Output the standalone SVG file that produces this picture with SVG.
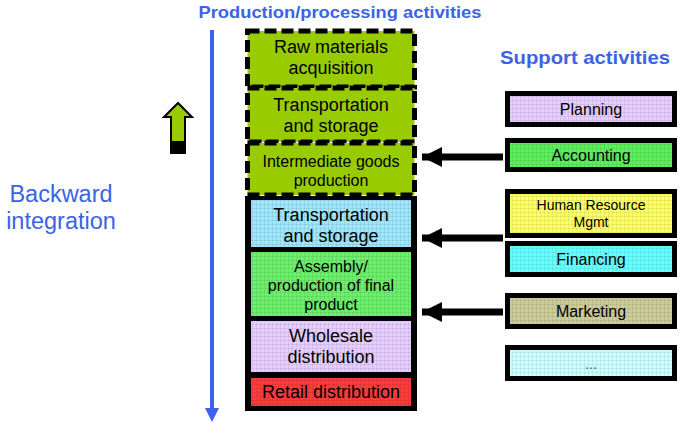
<svg xmlns="http://www.w3.org/2000/svg" width="698" height="447" viewBox="0 0 698 447">
<style>
text{font-family:"Liberation Sans",Arial,sans-serif;text-anchor:middle;fill:#000}
.t18{font-size:18px}
.t16{font-size:16px}
.t14{font-size:14px}
.blue{fill:#3b63e6}
.dash{fill:#99cc00;stroke:#000;stroke-width:5;stroke-dasharray:12 5}
.sup{stroke:#000;stroke-width:5}
.grid{fill:url(#grid)}
</style>
<defs>
<pattern id="grid" width="4" height="4" patternUnits="userSpaceOnUse">
<path d="M0 0.5H4M0.5 0V4" stroke="#000" stroke-opacity="0.07" stroke-width="1" fill="none"/>
</pattern>
<marker id="kh" viewBox="0 0 20 20" refX="20" refY="10" markerWidth="20" markerHeight="20" markerUnits="userSpaceOnUse" orient="auto">
<path d="M0 0L20 10L0 20Z" fill="#000"/>
</marker>
</defs>
<rect width="698" height="447" fill="#fff"/>

<text class="blue" x="340" y="18" textLength="283" lengthAdjust="spacingAndGlyphs" style="font-size:17px;font-weight:bold">Production/processing activities</text>
<text class="blue" x="585" y="64" textLength="170" lengthAdjust="spacingAndGlyphs" style="font-size:19px;font-weight:bold">Support activities</text>
<g id="backward-label">
<text class="blue" x="61" y="202" style="font-size:23.5px">Backward</text>
<text class="blue" x="61" y="229" style="font-size:23.5px">integration</text>
</g>

<g id="connectors">
<line x1="212" y1="30" x2="212" y2="409" stroke="#3b63f0" stroke-width="4"/>
<path d="M205 408L219 408L212 422Z" fill="#3b63f0"/>
<line x1="503" y1="157" x2="422" y2="157" stroke="#000" stroke-width="7" marker-end="url(#kh)"/>
<line x1="503" y1="238" x2="422" y2="238" stroke="#000" stroke-width="7" marker-end="url(#kh)"/>
<line x1="503" y1="312" x2="422" y2="312" stroke="#000" stroke-width="7" marker-end="url(#kh)"/>
</g>

<g id="up-arrow">
<path d="M171 153V117H164L178 103L192 117H185V153Z" fill="#99cc00" stroke="#000" stroke-width="2"/>
<rect x="171" y="141" width="14" height="12" fill="#000"/>
</g>

<g id="raw-materials">
<rect class="dash" x="247.5" y="31" width="167" height="56"/>
<text class="t18" x="331" y="53">Raw materials</text>
<text class="t18" x="331" y="74">acquisition</text>
</g>
<g id="transport-upper">
<rect class="dash" x="247.5" y="88" width="167" height="54"/>
<text class="t18" x="331" y="111">Transportation</text>
<text class="t18" x="331" y="132">and storage</text>
</g>
<g id="intermediate">
<rect class="dash" x="247.5" y="143" width="167" height="52"/>
<text class="t16" x="331" y="167">Intermediate goods</text>
<text class="t16" x="331" y="186">production</text>
</g>

<rect x="245" y="196" width="172" height="215" fill="#000"/>
<g id="transport-lower">
<rect x="251" y="200" width="160" height="47" fill="#9ee6fb"/>
<rect class="grid" x="251" y="200" width="160" height="47"/>
<text class="t18" x="331" y="221">Transportation</text>
<text class="t18" x="331" y="242">and storage</text>
</g>
<g id="assembly">
<rect x="251" y="252" width="160" height="64" fill="#6cf06c"/>
<rect class="grid" x="251" y="252" width="160" height="64"/>
<text class="t16" x="331" y="272">Assembly/</text>
<text class="t16" x="331" y="291">production of final</text>
<text class="t16" x="331" y="310">product</text>
</g>
<g id="wholesale">
<rect x="251" y="321" width="160" height="51" fill="#e6cdff"/>
<rect class="grid" x="251" y="321" width="160" height="51"/>
<text class="t18" x="331" y="342">Wholesale</text>
<text class="t18" x="331" y="363">distribution</text>
</g>
<g id="retail">
<rect x="251" y="378" width="160" height="28" fill="#ff3b3b"/>
<rect class="grid" x="251" y="378" width="160" height="28"/>
<text class="t18" x="331" y="398">Retail distribution</text>
</g>

<g id="planning">
<rect class="sup" x="507.5" y="93.5" width="167" height="31" fill="#e6cdff"/>
<rect class="grid" x="510" y="96" width="162" height="26"/>
<text class="t16" x="591" y="115">Planning</text>
</g>
<g id="accounting">
<rect class="sup" x="507.5" y="140.5" width="167" height="29" fill="#5df05d"/>
<rect class="grid" x="510" y="143" width="162" height="24"/>
<text class="t16" x="591" y="161">Accounting</text>
</g>
<g id="hr">
<rect class="sup" x="507.5" y="191.5" width="167" height="44" fill="#ffff66"/>
<rect class="grid" x="510" y="194" width="162" height="39"/>
<text class="t14" x="591" y="210">Human Resource</text>
<text class="t14" x="591" y="227">Mgmt</text>
</g>
<g id="financing">
<rect class="sup" x="507.5" y="243.5" width="167" height="31" fill="#66ffff"/>
<rect class="grid" x="510" y="246" width="162" height="26"/>
<text class="t16" x="591" y="265">Financing</text>
</g>
<g id="marketing">
<rect class="sup" x="507.5" y="295.5" width="167" height="31" fill="#cccc99"/>
<rect class="grid" x="510" y="298" width="162" height="26"/>
<text class="t16" x="591" y="317">Marketing</text>
</g>
<g id="more">
<rect class="sup" x="507.5" y="347.5" width="167" height="31" fill="#ccffff"/>
<rect class="grid" x="510" y="350" width="162" height="26"/>
<text class="t14" x="591" y="369" style="fill:#555">...</text>
</g>
</svg>
